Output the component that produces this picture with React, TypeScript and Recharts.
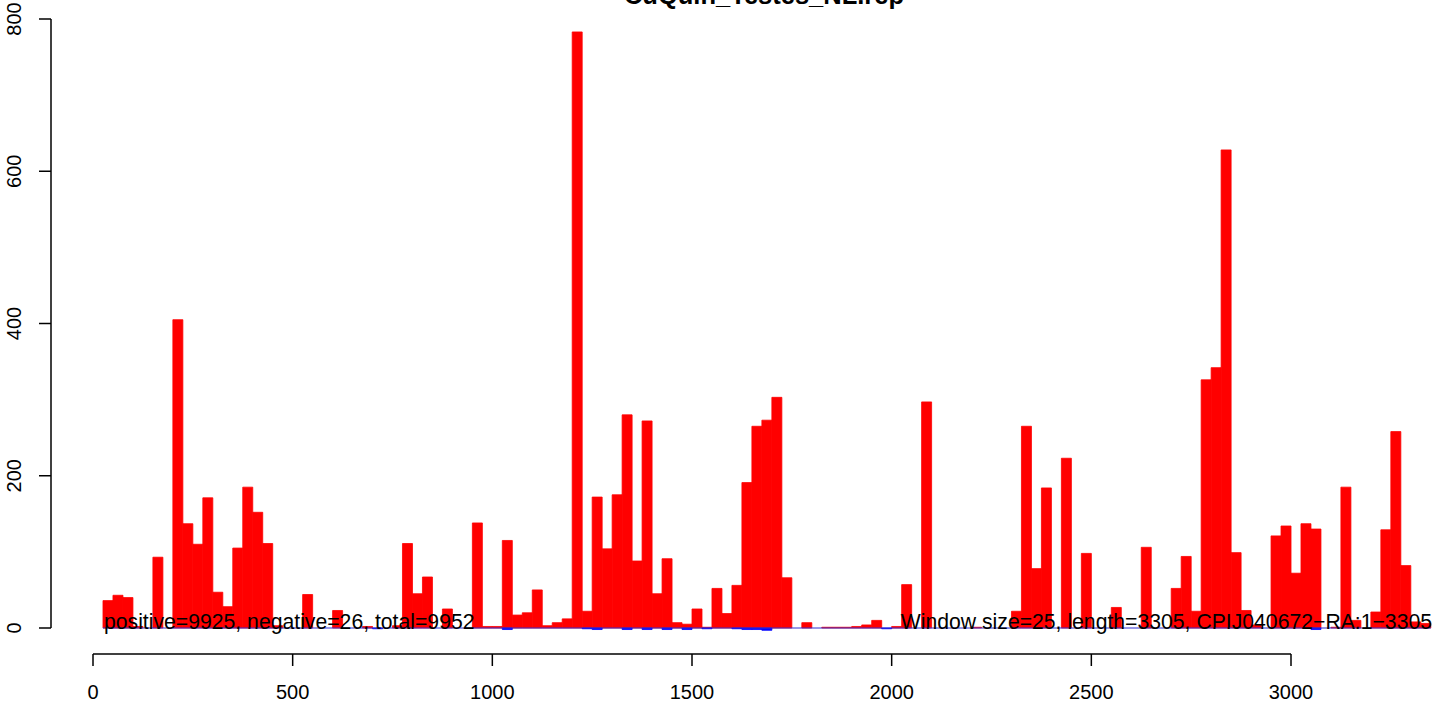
import React from "react";
import { Bar, BarChart, ReferenceLine, XAxis, YAxis } from "recharts";

// window counts, 25 nt windows along CPIJ040672-RA (1-3305)
const WINDOW = 25;
const positive = [
  36, 43, 40, 2, 0, 93, 0, 405, 137, 110,
  171, 47, 28, 105, 185, 152, 111, 3, 0, 0,
  44, 0, 0, 23, 0, 0, 2, 0, 0, 3,
  111, 45, 67, 0, 25, 0, 0, 138, 2, 2,
  115, 17, 20, 50, 3, 7, 12, 783, 22, 172,
  104, 175, 280, 88, 272, 45, 91, 7, 5, 25,
  1, 52, 19, 56, 191, 265, 273, 303, 66, 0,
  7, 0, 1, 1, 1, 2, 4, 10, 0, 2,
  57, 0, 297, 0, 0, 0, 0, 1, 0, 0,
  0, 22, 265, 78, 184, 0, 223, 0, 98, 0,
  0, 27, 0, 0, 106, 0, 0, 52, 94, 22,
  326, 342, 628, 99, 23, 4, 0, 121, 134, 72,
  137, 130, 0, 1, 185, 10, 0, 21, 129, 258,
  82, 8, 6,
];
const negative = [
  0, 0, 0, 0, 0, 0, 0, 0, 0, 0,
  0, 0, 0, 0, 0, 0, 0, 0, 0, 0,
  0, 0, 0, 0, 0, 0, 0, -1, 0, 0,
  0, 0, 0, 0, 0, 0, 0, 0, 0, 0,
  -2, 0, 0, 0, 0, 0, 0, 0, -1, -2,
  0, 0, -2, 0, -2, 0, -2, 0, -2, 0,
  -1, 0, 0, -1, -2, -2, -3, 0, 0, 0,
  0, 0, 0, 0, 0, 0, 0, 0, -1, 0,
  0, 0, 0, 0, 0, 0, 0, 0, 0, 0,
  0, 0, 0, 0, 0, 0, 0, 0, 0, 0,
  0, 0, 0, 0, 0, 0, 0, 0, 0, 0,
  0, 0, 0, 0, 0, 0, 0, 0, 0, 0,
  0, -2, 0, 0, 0, 0, 0, 0, 0, 0,
  0, 0, 0,
];
const xTicks = [0, 500, 1000, 1500, 2000, 2500, 3000];
const yTicks = [0, 200, 400, 600, 800];

const title = "CuQuin_Testes_NL.rep";
const leftNote = "positive=9925, negative=26, total=9952";
const rightNote = "Window size=25, length=3305, CPIJ040672\u2212RA:1\u22123305";

const data = positive.map((p, i) => ({
  x: WINDOW * (i + 1) + WINDOW / 2,
  pos: p,
  neg: negative[i],
}));

const W = 1449;
const H = 704;
const FONT = "'Liberation Sans', Arial, Helvetica, sans-serif";

// plot box in pixels (R-like layout)
const left = 51;
const right = 7;
const plotW = W - left - right;
const bottomY = 654;
const pxX = 1198 / 3000;
const pxY = 609 / 800;
const xMin = -(93 - left) / pxX;
const xMax = xMin + plotW / pxX;
const yMin = -(bottomY - 628) / pxY;
const yMax = 628 / pxY;

const YTick = (props: any) => {
  const { x, y, payload } = props;
  return (
    <text
      transform={`translate(${x - 18},${y}) rotate(-90)`}
      textAnchor="middle"
      fontSize={20}
      fontFamily={FONT}
      fill="#000"
    >
      {payload.value}
    </text>
  );
};

export default function App() {
  return (
    <div style={{ position: "absolute", left: 0, top: 0, width: W, height: H, background: "#fff" }}>
      <BarChart
        width={W}
        height={H}
        data={data}
        margin={{ top: 0, right, left: 0, bottom: 0 }}
        barCategoryGap={0}
        barGap={0}
        stackOffset="sign"
      >
        <XAxis
          type="number"
          dataKey="x"
          domain={[xMin, xMax]}
          allowDataOverflow
          ticks={xTicks}
          interval={0}
          height={H - bottomY}
          axisLine={false}
          tickSize={12}
          tickMargin={19}
          tickLine={{ stroke: "#000", strokeWidth: 1.5 }}
          tick={{ fontSize: 20, fill: "#000", fontFamily: FONT }}
        />
        <YAxis
          type="number"
          domain={[yMin, yMax]}
          allowDataOverflow
          ticks={yTicks}
          interval={0}
          width={left}
          axisLine={false}
          tickSize={12}
          tickMargin={0}
          tickLine={{ stroke: "#000", strokeWidth: 1.5 }}
          tick={<YTick />}
        />
        <ReferenceLine
          segment={[{ x: WINDOW, y: 0 }, { x: WINDOW * 134, y: 0 }]}
          stroke="#3030d0"
          strokeWidth={1}
          ifOverflow="visible"
        />
        <Bar
          dataKey="pos"
          stackId="a"
          fill="#ff0000"
          stroke="#ff0000"
          strokeWidth={0.8}
          isAnimationActive={false}
        />
        <Bar
          dataKey="neg"
          stackId="a"
          fill="#0000ff"
          stroke="#0000ff"
          strokeWidth={0.8}
          isAnimationActive={false}
        />
        <ReferenceLine
          segment={[{ x: 0, y: yMin }, { x: 3000, y: yMin }]}
          stroke="#000"
          strokeWidth={1.5}
          ifOverflow="visible"
        />
        <ReferenceLine
          segment={[{ x: xMin, y: 0 }, { x: xMin, y: 800 }]}
          stroke="#000"
          strokeWidth={1.5}
          ifOverflow="visible"
        />
      </BarChart>
      <svg
        width={W}
        height={H}
        style={{ position: "absolute", left: 0, top: 0, pointerEvents: "none" }}
      >
        <text x={764} y={4} textAnchor="middle" fontSize={25.5} fontWeight="bold" fontFamily={FONT}>
          {title}
        </text>
        <text x={104} y={629} fontSize={21.2} fontFamily={FONT}>
          {leftNote}
        </text>
        <text x={1432} y={629} textAnchor="end" fontSize={21.2} fontFamily={FONT}>
          {rightNote}
        </text>
      </svg>
    </div>
  );
}
